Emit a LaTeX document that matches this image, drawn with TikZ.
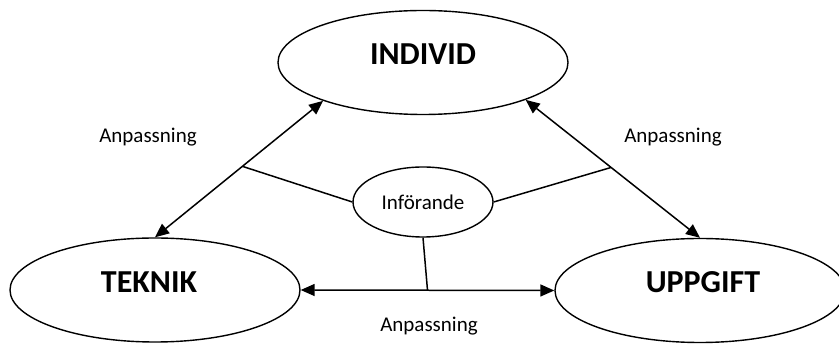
\documentclass[tikz,border=0pt]{standalone}
\usepackage{fontspec}
\setmainfont{Carlito}
\usetikzlibrary{shapes.geometric,arrows.meta,calc}
\tikzset{
  bigell/.style={ellipse,draw,line width=1.4pt,minimum width=290pt,minimum height=104pt,inner sep=0pt},
  smallell/.style={ellipse,draw,line width=1.4pt,minimum width=140pt,minimum height=70pt,inner sep=0pt,font=\fontsize{21}{24}\selectfont},
  title/.style={font=\fontsize{32}{36}\selectfont\bfseries,inner sep=0pt},
  lbl/.style={font=\fontsize{21}{24}\selectfont,inner sep=0pt},
  conn/.style={line width=1.5pt},
  biarrow/.style={conn,{Triangle[length=14pt,width=12pt]}-{Triangle[length=14pt,width=12pt]}}
}
\begin{document}
\begin{tikzpicture}[x=1pt,y=-1pt]
\useasboundingbox (0,0) rectangle (839,344);
\node[bigell] (indiv) at (423,62.5) {};
\node[bigell] (teknik) at (155,290) {};
\node[bigell] (uppg) at (700,290.5) {};
\node[smallell] (inf) at (423,202) {Införande};
\node[title] (tIndiv) at ([yshift=8pt]indiv.center) {INDIVID};
\node[title] (tTeknik) at ([yshift=8pt,xshift=-6pt]teknik.center) {TEKNIK};
\node[title] (tUppg) at ([yshift=8pt,xshift=3pt]uppg.center) {UPPGIFT};
\draw[biarrow] (teknik.north) -- (indiv.201);
\draw[biarrow] (indiv.340) -- (uppg.north);
\draw[biarrow] (teknik.east) -- (uppg.west);
\coordinate (jl) at ($(teknik.north)!0.52!(indiv.201)$);
\coordinate (jr) at ($(indiv.340)!0.49!(uppg.north)$);
\coordinate (jb) at ($(teknik.east)!0.5!(uppg.west)$);
\draw[conn] (inf.west) -- (jl);
\draw[conn] (inf.east) -- (jr);
\draw[conn] (inf.south) -- (jb);
\node[lbl] (a1) at (148,137) {Anpassning};
\node[lbl] (a2) at (673,137) {Anpassning};
\node[lbl] (a3) at (429,326) {Anpassning};
\end{tikzpicture}
\end{document}
